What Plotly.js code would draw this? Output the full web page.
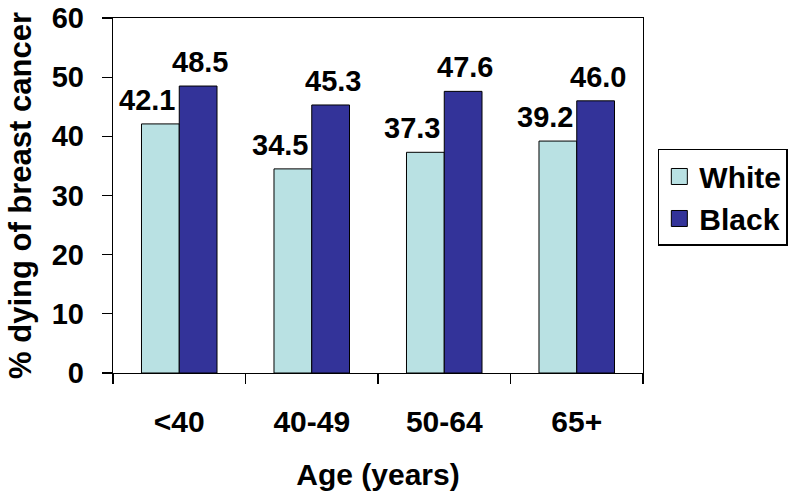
<!DOCTYPE html>
<html>
<head>
<meta charset="utf-8">
<script src="https://cdn.plot.ly/plotly-3.0.1.min.js"></script>
<style>html,body{margin:0;padding:0;background:#fff;}#chart{width:800px;height:502px;}</style>
</head>
<body>
<div id="chart"></div>
<script>
const categories = ["<40", "40-49", "50-64", "65+"];
const whiteValues = [42.1, 34.5, 37.3, 39.2];
const blackValues = [48.5, 45.3, 47.6, 46.0];
const seriesNames = ["White", "Black"];
const seriesColors = ["#B9E1E3", "#333399"];
const yTicks = [0, 10, 20, 30, 40, 50, 60];

const FONT = "Arial, 'Liberation Sans', sans-serif";
const boldFont = (s) => ({family: FONT, size: s, color: "#000", weight: "bold"});

const traces = [
  {type: "bar", name: seriesNames[0], x: categories, y: whiteValues, showlegend: false,
   marker: {color: seriesColors[0], line: {color: "#000", width: 1}}},
  {type: "bar", name: seriesNames[1], x: categories, y: blackValues, showlegend: false,
   marker: {color: seriesColors[1], line: {color: "#000", width: 1}}},
  // legend entries (square swatches)
  {type: "scatter", mode: "markers", name: seriesNames[0], x: [null], y: [null], hoverinfo: "skip",
   marker: {symbol: "square", size: 16, color: seriesColors[0], line: {color: "#000", width: 1}}},
  {type: "scatter", mode: "markers", name: seriesNames[1], x: [null], y: [null], hoverinfo: "skip",
   marker: {symbol: "square", size: 16, color: seriesColors[1], line: {color: "#000", width: 1}}}
];

const annotations = [];
categories.forEach((c, i) => {
  annotations.push({x: c, y: whiteValues[i], xref: "x", yref: "y", text: whiteValues[i].toFixed(1),
    showarrow: false, yanchor: "bottom", xanchor: "center", xshift: -32, yshift: 6, font: boldFont(29)});
  annotations.push({x: c, y: blackValues[i], xref: "x", yref: "y", text: blackValues[i].toFixed(1),
    showarrow: false, yanchor: "bottom", xanchor: "center", xshift: 21, yshift: 6, font: boldFont(29)});
});

const layout = {
  width: 800, height: 502,
  margin: {l: 113, r: 154, t: 18, b: 129},
  paper_bgcolor: "#fff", plot_bgcolor: "#fff",
  barmode: "group", bargap: 0.43, bargroupgap: 0,
  font: {family: FONT, color: "#000"},
  xaxis: {
    type: "category", showline: true, linecolor: "#000", linewidth: 1.2, mirror: true,
    ticks: "outside", tickson: "boundaries", ticklen: 10, tickcolor: "#000", tickwidth: 1.2,
    tickfont: boldFont(30),
    ticklabelstandoff: 22,
    showgrid: false, zeroline: false,
    title: {text: "Age (years)", font: boldFont(30), standoff: 26}
  },
  yaxis: {
    range: [0, 60], tickvals: yTicks, ticktext: yTicks.map(String),
    showline: true, linecolor: "#000", linewidth: 1.2, mirror: true,
    ticks: "outside", ticklen: 10, tickcolor: "#000", tickwidth: 1.2,
    tickfont: boldFont(29),
    ticklabelstandoff: 12,
    showgrid: false, zeroline: false,
    title: {text: "% dying of breast cancer", font: boldFont(31), standoff: 10}
  },
  legend: {
    x: 1.028, y: 0.631, xanchor: "left", yanchor: "top",
    bordercolor: "#000", borderwidth: 1.5, bgcolor: "#fff",
    font: boldFont(30), itemsizing: "trace",
    traceorder: "normal", itemwidth: 30
  },
  showlegend: true,
  annotations: annotations
};

Plotly.newPlot("chart", traces, layout, {displayModeBar: false, staticPlot: true});
</script>
</body>
</html>
